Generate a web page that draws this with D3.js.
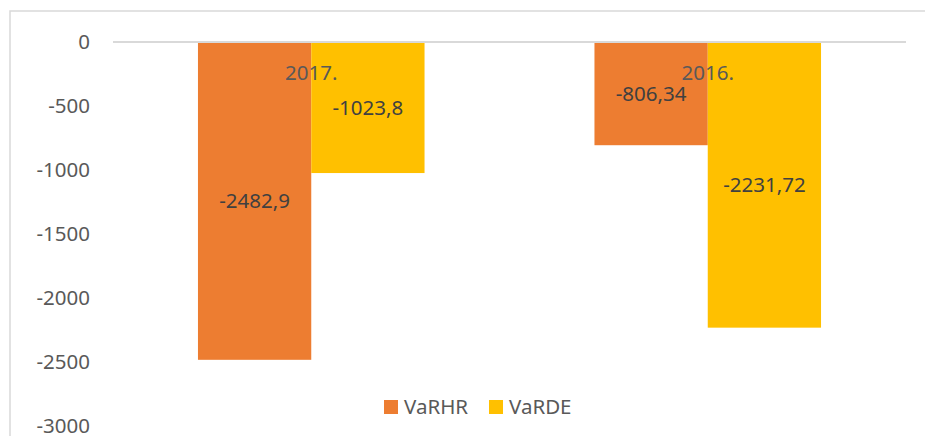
<!DOCTYPE html>
<html>
<head>
<meta charset="utf-8">
<script src="https://cdn.jsdelivr.net/npm/d3@7"></script>
<style>
  body { margin: 0; background: #fff; }
  svg { display: block; font-family: "Noto Sans", sans-serif; }
</style>
</head>
<body>
<script>
const width = 925,
      height = 436;

const categories = ['2017.', '2016.'];
const series = ['VaRHR', 'VaRDE'];
const colors = ['#ED7D31', '#FFC000'];
const varhr = [-2482.9, -806.34];
const varde = [-1023.8, -2231.72];
const yTicks = [0, -500, -1000, -1500, -2000, -2500, -3000];

const values = [varhr, varde];

const svg = d3.select('body').append('svg')
    .attr('width', width)
    .attr('height', height);

// chart area frame (only top and left edges are in view)
svg.append('path')
    .attr('d', 'M10,436 V11 H925')
    .attr('fill', 'none')
    .attr('stroke', '#d9d9d9')
    .attr('stroke-width', 1.5);

const y = d3.scaleLinear()
    .domain([-3000, 0])
    .range([426, 42]);

const x = d3.scaleBand()
    .domain(categories)
    .range([113, 906]);

// gap width 150% -> bars take 2 / 3.5 of each band
const gap = x.bandwidth() * 1.5 / 3.5 / 2;
const xSub = d3.scaleBand()
    .domain(series)
    .range([gap, x.bandwidth() - gap]);

const yAxis = svg.append('g')
    .attr('transform', 'translate(93,0)')
    .call(d3.axisLeft(y).tickValues(yTicks).tickSize(0).tickPadding(3).tickFormat(d => String(d)));
yAxis.select('.domain').remove();
yAxis.selectAll('text')
    .attr('fill', '#595959')
    .style('font-size', '20.5px')
    .style('font-family', '"Noto Sans", sans-serif');

const groups = svg.selectAll('g.cat')
    .data(categories)
    .enter()
    .append('g')
    .attr('class', 'cat')
    .attr('transform', d => `translate(${x(d)},0)`);

groups.selectAll('rect')
    .data((d, i) => series.map((s, j) => ({ s, j, v: values[j][i] })))
    .enter()
    .append('rect')
    .attr('x', d => xSub(d.s))
    .attr('y', y(0))
    .attr('width', xSub.bandwidth())
    .attr('height', d => y(d.v) - y(0))
    .attr('fill', d => colors[d.j]);

// zero line
svg.append('line')
    .attr('x1', 113).attr('x2', 906)
    .attr('y1', y(0)).attr('y2', y(0))
    .attr('stroke', '#d9d9d9')
    .attr('stroke-width', 2);

// category labels sit just under the zero line
groups.append('text')
    .attr('x', x.bandwidth() / 2)
    .attr('y', y(0) + 38)
    .attr('text-anchor', 'middle')
    .attr('fill', '#595959')
    .style('font-size', '20.5px')
    .text(d => d);

// data labels centred in the bars
groups.selectAll('text.val')
    .data((d, i) => series.map((s, j) => ({ s, j, v: values[j][i] })))
    .enter()
    .append('text')
    .attr('class', 'val')
    .attr('x', d => xSub(d.s) + xSub.bandwidth() / 2)
    .attr('y', d => (y(0) + y(d.v)) / 2)
    .attr('dy', '0.35em')
    .attr('text-anchor', 'middle')
    .attr('fill', '#404040')
    .style('font-size', '20.5px')
    .text(d => String(d.v).replace('.', ','));

// legend
const legendX = [384, 489];
const legend = svg.selectAll('g.legend')
    .data(series)
    .enter()
    .append('g')
    .attr('class', 'legend')
    .attr('transform', (d, i) => `translate(${legendX[i]},400)`);

legend.append('rect')
    .attr('width', 14)
    .attr('height', 14)
    .attr('fill', (d, i) => colors[i]);

legend.append('text')
    .attr('x', 20)
    .attr('y', 7)
    .attr('dy', '0.35em')
    .attr('fill', '#595959')
    .style('font-size', '20.5px')
    .text(d => d);
</script>
</body>
</html>
